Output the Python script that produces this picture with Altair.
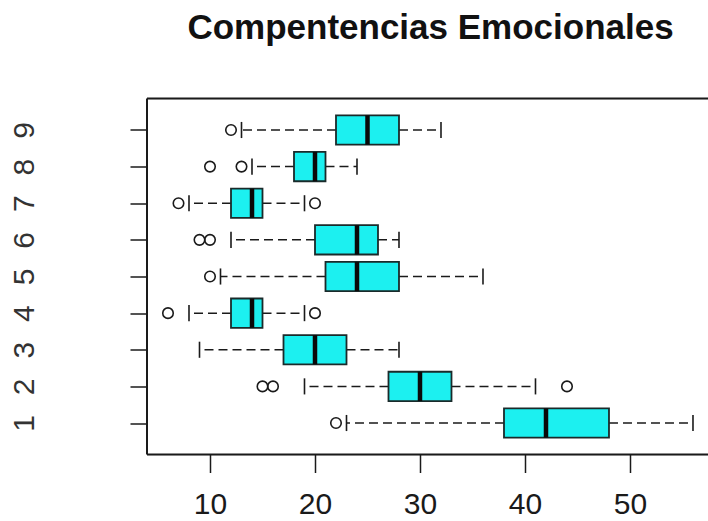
import altair as alt
import pandas as pd

# ---- data ----
groups = [1, 2, 3, 4, 5, 6, 7, 8, 9]
lower = [23, 19, 9, 8, 11, 12, 8, 14, 13]
q1 = [38, 27, 17, 12, 21, 20, 12, 18, 22]
median = [42, 30, 20, 14, 24, 24, 14, 20, 25]
q3 = [48, 33, 23, 15, 28, 26, 15, 21, 28]
upper = [56, 41, 28, 19, 36, 28, 19, 24, 32]

out_group = [1, 2, 2, 2, 4, 4, 5, 6, 6, 7, 7, 8, 8, 9]
out_value = [22, 15, 16, 44, 6, 20, 10, 9, 10, 7, 20, 10, 13, 12]

x_ticks = [10, 20, 30, 40, 50]
title_text = "Compentencias Emocionales"

BOX_HALF = 0.4
CAP_HALF = 0.22
FONT = "Liberation Sans"
INK = "#1a1a1a"

df = pd.DataFrame({"g": groups, "lower": lower, "q1": q1, "median": median,
                   "q3": q3, "upper": upper})
df["glo"] = df["g"] - BOX_HALF
df["ghi"] = df["g"] + BOX_HALF
df["clo"] = df["g"] - CAP_HALF
df["chi"] = df["g"] + CAP_HALF

outs = pd.DataFrame({"g": out_group, "v": out_value})

xscale = alt.Scale(domain=[4, 57.43], nice=False, zero=False)
yscale = alt.Scale(domain=[0.14, 9.86], nice=False, zero=False)

xaxis = alt.Axis(values=x_ticks, title=None, domain=False, grid=False,
                 tickSize=18, tickWidth=1.5, tickColor=INK,
                 labelFontSize=30, labelFont=FONT, labelColor=INK,
                 labelBaseline="alphabetic", labelPadding=41, labelFlush=False)
yaxis = alt.Axis(values=groups, title=None, domain=False, grid=False,
                 tickSize=17, tickWidth=1.5, tickColor=INK,
                 labelFontSize=30, labelFont=FONT, labelColor="#333333",
                 labelAngle=270, labelAlign="center", labelBaseline="alphabetic",
                 labelPadding=97, labelFlush=False)

base = alt.Chart(df)

whisk_lo = base.mark_rule(color=INK, strokeWidth=1.5, strokeDash=[9, 5]).encode(
    x=alt.X("q1:Q", scale=xscale, axis=xaxis),
    x2="lower:Q",
    y=alt.Y("g:Q", scale=yscale, axis=yaxis),
)
whisk_hi = base.mark_rule(color=INK, strokeWidth=1.5, strokeDash=[9, 5]).encode(
    x=alt.X("q3:Q", scale=xscale), x2="upper:Q", y=alt.Y("g:Q", scale=yscale)
)
cap_lo = base.mark_rule(color=INK, strokeWidth=1.6).encode(
    x=alt.X("lower:Q", scale=xscale), y=alt.Y("clo:Q", scale=yscale), y2="chi:Q"
)
cap_hi = base.mark_rule(color=INK, strokeWidth=1.6).encode(
    x=alt.X("upper:Q", scale=xscale), y=alt.Y("clo:Q", scale=yscale), y2="chi:Q"
)
boxes = base.mark_rect(fill="#1CF0F0", stroke="#1a2a2a", strokeWidth=1.8).encode(
    x=alt.X("q1:Q", scale=xscale), x2="q3:Q",
    y=alt.Y("glo:Q", scale=yscale), y2="ghi:Q"
)
medians = base.mark_rule(color="#0a0a0a", strokeWidth=4.5).encode(
    x=alt.X("median:Q", scale=xscale),
    y=alt.Y("glo:Q", scale=yscale), y2="ghi:Q"
)
points = alt.Chart(outs).mark_point(shape="circle", filled=False, color=INK,
                                    strokeWidth=1.6, size=110, opacity=1).encode(
    x=alt.X("v:Q", scale=xscale), y=alt.Y("g:Q", scale=yscale)
)

one = pd.DataFrame({"a": [0]})
frame_top = alt.Chart(one).mark_rule(color=INK, strokeWidth=2).encode(
    x=alt.value(0), x2=alt.value(561), y=alt.value(0))
frame_bot = alt.Chart(one).mark_rule(color=INK, strokeWidth=2).encode(
    x=alt.value(0), x2=alt.value(561), y=alt.value(356))
frame_left = alt.Chart(one).mark_rule(color=INK, strokeWidth=2).encode(
    x=alt.value(0), y=alt.value(0), y2=alt.value(356))

chart = alt.layer(
    whisk_lo, whisk_hi, cap_lo, cap_hi, boxes, medians, points,
    frame_top, frame_bot, frame_left
).properties(
    width=561, height=356,
    autosize="none",
    padding={"left": 147, "top": 98.5, "right": 0, "bottom": 66.5},
    title=alt.Title(title_text, fontSize=35, font=FONT, fontWeight="bold",
                    anchor="middle", baseline="alphabetic", offset=24, dx=3,
                    color="#111111"),
).configure_view(stroke=None).configure(background="white")

chart.save("out.html", embed_options={"renderer": "svg", "actions": False})
